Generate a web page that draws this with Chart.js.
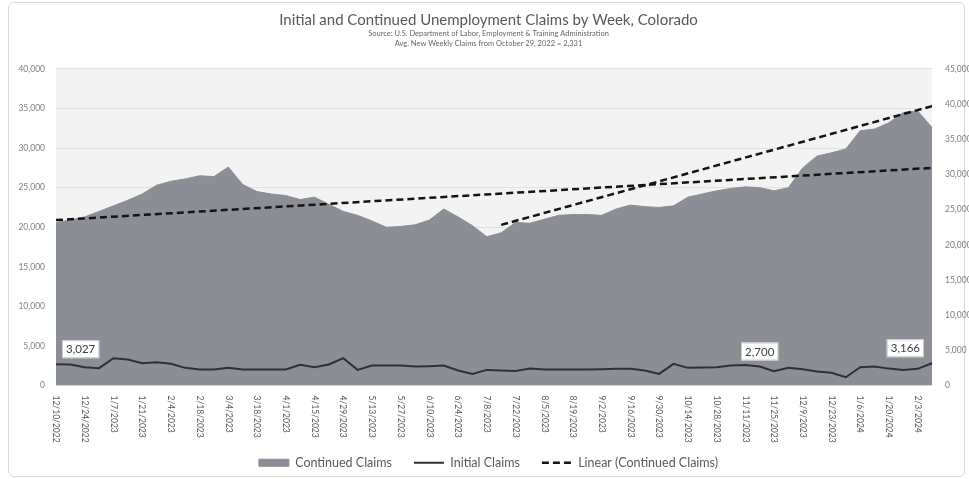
<!DOCTYPE html>
<html>
<head>
<meta charset="utf-8">
<script src="https://cdn.jsdelivr.net/npm/chart.js@4.4.0/dist/chart.umd.min.js"></script>
<style>
  html, body { margin: 0; padding: 0; background: #fff; }
  .wrap { position: relative; width: 969px; height: 479px; }
  .frame { position: absolute; left: 8px; top: 2px; width: 955px; height: 473px; border: 1px solid #d9d9d9; border-radius: 6px; }
  canvas { position: absolute; left: 0; top: 0; }
</style>
</head>
<body>
<div class="wrap">
  <div class="frame"></div>
  <canvas id="claimsChart" width="969" height="479"></canvas>
</div>
<script>
// Week ending dates (Saturdays)
const weeks = [
  '12/10/2022', '12/17/2022', '12/24/2022', '12/31/2022',
  '1/7/2023', '1/14/2023', '1/21/2023', '1/28/2023',
  '2/4/2023', '2/11/2023', '2/18/2023', '2/25/2023',
  '3/4/2023', '3/11/2023', '3/18/2023', '3/25/2023',
  '4/1/2023', '4/8/2023', '4/15/2023', '4/22/2023', '4/29/2023',
  '5/6/2023', '5/13/2023', '5/20/2023', '5/27/2023',
  '6/3/2023', '6/10/2023', '6/17/2023', '6/24/2023',
  '7/1/2023', '7/8/2023', '7/15/2023', '7/22/2023', '7/29/2023',
  '8/5/2023', '8/12/2023', '8/19/2023', '8/26/2023',
  '9/2/2023', '9/9/2023', '9/16/2023', '9/23/2023', '9/30/2023',
  '10/7/2023', '10/14/2023', '10/21/2023', '10/28/2023',
  '11/4/2023', '11/11/2023', '11/18/2023', '11/25/2023',
  '12/2/2023', '12/9/2023', '12/16/2023', '12/23/2023', '12/30/2023',
  '1/6/2024', '1/13/2024', '1/20/2024', '1/27/2024',
  '2/3/2024', '2/10/2024'
];

// Continued claims (left axis)
const continuedClaims = [
  20600, 20900, 21300, 22000, 22700, 23400, 24200, 25300, 25800, 26100,
  26500, 26400, 27600, 25400, 24500, 24200, 24000, 23500, 23800, 22900,
  22000, 21500, 20800, 20000, 20100, 20300, 20900, 22300, 21300, 20200,
  18800, 19300, 20600, 20500, 21000, 21500, 21600, 21600, 21500, 22300,
  22800, 22600, 22500, 22700, 23800, 24200, 24600, 24900, 25100, 25000,
  24600, 25000, 27500, 29000, 29400, 29900, 32200, 32400, 33200, 34500,
  34700, 32600
];

// Initial claims (right axis)
const initialClaims = [
  3027, 2980, 2600, 2460, 3880, 3690, 3170, 3310, 3080, 2510,
  2270, 2270, 2510, 2270, 2270, 2270, 2270, 2940, 2600, 2980,
  3880, 2220, 2840, 2840, 2840, 2700, 2750, 2840, 2130, 1650,
  2220, 2130, 2050, 2400, 2270, 2270, 2270, 2270, 2300, 2370,
  2370, 2130, 1650, 3080, 2510, 2550, 2600, 2840, 2900, 2700,
  2030, 2510, 2300, 2000, 1800, 1180, 2600, 2700, 2400, 2220,
  2370, 3166
];

// Linear trend lines on continued claims (end points)
const trendAll = [
  { x: '12/10/2022', y: 20900 },
  { x: '2/10/2024', y: 27500 }
];
const trendRecent = [
  { x: '7/15/2023', y: 20300 },
  { x: '2/10/2024', y: 35300 }
];

// weeks that get a value callout on the initial claims line
const calloutWeeks = [0, 49, 61];

const leftTicks = { min: 0, max: 40000, step: 5000 };
const rightTicks = { min: 0, max: 45000, step: 5000 };

const FONT = "Lato, 'Open Sans', sans-serif";
const fmt = v => v.toLocaleString('en-US');

// light gray plot area
const plotBackground = {
  id: 'plotBackground',
  beforeDraw(chart) {
    const { ctx, chartArea: a } = chart;
    ctx.save();
    ctx.fillStyle = '#f3f3f3';
    ctx.fillRect(a.left, a.top, a.right - a.left, a.bottom - a.top);
    ctx.restore();
  }
};

// date labels, rotated to read top to bottom
const weekLabels = {
  id: 'weekLabels',
  afterDraw(chart) {
    const { ctx } = chart;
    const xs = chart.scales.x;
    const a = chart.chartArea;
    ctx.save();
    ctx.font = '8.5px ' + FONT;
    ctx.fillStyle = '#595959';
    ctx.textAlign = 'left';
    ctx.textBaseline = 'middle';
    weeks.forEach((w, i) => {
      if (i % 2) return;
      ctx.save();
      ctx.translate(xs.getPixelForValue(i), a.bottom + 10);
      ctx.rotate(Math.PI / 2);
      ctx.fillText(w, 0, 0);
      ctx.restore();
    });
    ctx.restore();
  }
};

// boxed value labels above the initial claims line
const callouts = {
  id: 'callouts',
  afterDatasetsDraw(chart) {
    const { ctx, chartArea: a } = chart;
    const meta = chart.getDatasetMeta(1);
    ctx.save();
    ctx.font = '11.5px ' + FONT;
    calloutWeeks.forEach(i => {
      const pt = meta.data[i];
      const text = fmt(initialClaims[i]);
      const w = ctx.measureText(text).width + 8;
      const h = 18;
      const cx = Math.min(Math.max(pt.x, a.left + w / 2 + 6), a.right - w / 2 - 8);
      const top = pt.y - 6 - h;
      ctx.fillStyle = '#ffffff';
      ctx.fillRect(cx - w / 2, top, w, h);
      ctx.strokeStyle = '#c8c8c8';
      ctx.lineWidth = 1;
      ctx.strokeRect(cx - w / 2 + 0.5, top + 0.5, w - 1, h - 1);
      ctx.fillStyle = '#404040';
      ctx.textAlign = 'center';
      ctx.textBaseline = 'middle';
      ctx.fillText(text, cx, top + h / 2 + 0.5);
    });
    ctx.restore();
  }
};

new Chart(document.getElementById('claimsChart'), {
  type: 'line',
  data: {
    labels: weeks,
    datasets: [
      {
        label: 'Continued Claims',
        data: continuedClaims,
        yAxisID: 'y',
        fill: 'origin',
        backgroundColor: '#8b8e94',
        borderColor: '#8b8e94',
        borderWidth: 1,
        pointRadius: 0,
        pointStyle: 'rect',
        tension: 0,
        order: 4
      },
      {
        label: 'Initial Claims',
        data: initialClaims,
        yAxisID: 'y1',
        fill: false,
        borderColor: '#2b303b',
        backgroundColor: '#2b303b',
        borderWidth: 2,
        pointRadius: 0,
        pointStyle: 'line',
        tension: 0,
        order: 1
      },
      {
        label: 'Linear (Continued Claims)',
        data: trendAll,
        yAxisID: 'y',
        fill: false,
        borderColor: '#141414',
        backgroundColor: '#141414',
        borderWidth: 2.5,
        borderDash: [7, 4],
        pointRadius: 0,
        pointStyle: 'line',
        order: 2
      },
      {
        label: 'Linear (Continued Claims) recent',
        data: trendRecent,
        yAxisID: 'y',
        fill: false,
        borderColor: '#141414',
        borderWidth: 2.5,
        borderDash: [7, 4],
        pointRadius: 0,
        pointStyle: 'line',
        order: 3
      }
    ]
  },
  options: {
    responsive: false,
    animation: false,
    layout: { padding: { left: 8, right: 0, top: 0, bottom: 0 } },
    plugins: {
      title: {
        display: true,
        text: 'Initial and Continued Unemployment Claims by Week, Colorado',
        color: '#595959',
        font: { family: FONT, size: 15, weight: 'normal', lineHeight: 1.1 },
        padding: { top: 12, bottom: 0 }
      },
      subtitle: {
        display: true,
        text: [
          'Source: U.S. Department of Labor, Employment & Training Administration',
          'Avg. New Weekly Claims from October 29, 2022 = 2,331'
        ],
        color: '#666666',
        font: { family: FONT, size: 7.5, lineHeight: 1.33 },
        padding: { top: 0, bottom: 20.5 }
      },
      legend: {
        position: 'bottom',
        labels: {
          usePointStyle: true,
          pointStyleWidth: 30,
          boxHeight: 7,
          padding: 22,
          color: '#595959',
          font: { family: FONT, size: 12.5 },
          // first three datasets only, with their own line styles
          generateLabels: chart => chart.data.datasets.slice(0, 3).map((ds, i) => ({
            text: ds.label,
            datasetIndex: i,
            fillStyle: ds.backgroundColor,
            strokeStyle: ds.borderColor,
            lineWidth: ds.borderWidth,
            lineDash: ds.borderDash || [],
            pointStyle: ds.pointStyle,
            fontColor: '#595959',
            hidden: false
          }))
        }
      },
      tooltip: { enabled: false }
    },
    scales: {
      x: {
        grid: { display: false },
        border: { display: false },
        ticks: { display: false },
        afterFit: s => { s.height = 49; }
      },
      y: {
        position: 'left',
        min: leftTicks.min,
        max: leftTicks.max,
        grid: { color: '#e1e1e1', drawTicks: false },
        border: { display: false },
        ticks: {
          stepSize: leftTicks.step,
          padding: 11,
          color: '#808080',
          font: { family: FONT, size: 8.5 },
          callback: v => fmt(v)
        },
        afterFit: s => { s.width = 48; }
      },
      y1: {
        position: 'right',
        min: rightTicks.min,
        max: rightTicks.max,
        grid: { display: false, drawTicks: false },
        border: { display: false },
        ticks: {
          stepSize: rightTicks.step,
          padding: 13,
          color: '#808080',
          font: { family: FONT, size: 8.5 },
          callback: v => fmt(v)
        },
        afterFit: s => { s.width = 37; }
      }
    }
  },
  plugins: [plotBackground, weekLabels, callouts]
});
</script>
</body>
</html>
